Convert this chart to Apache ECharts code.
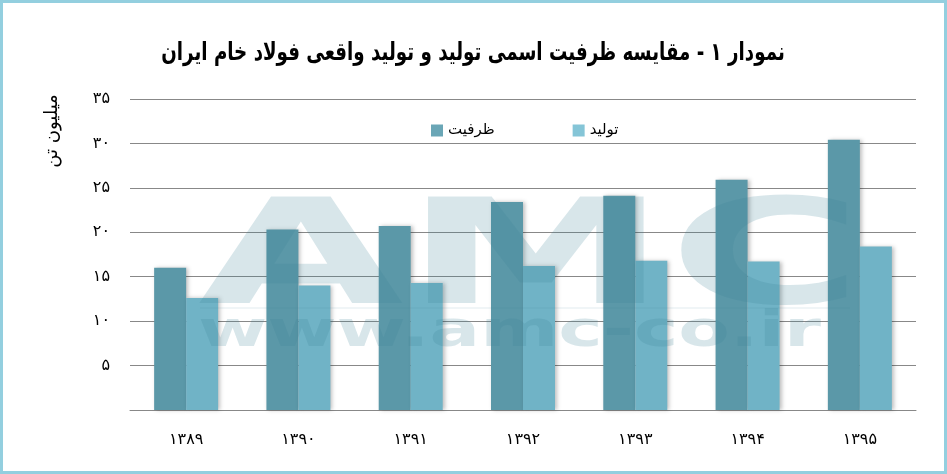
<!DOCTYPE html>
<html>
<head>
<meta charset="utf-8">
<script src="https://cdn.jsdelivr.net/npm/echarts@6/dist/echarts.min.js"></script>
<style>
  html, body { margin: 0; padding: 0; background: #fff; }
  #chart { width: 947px; height: 474px; }
</style>
</head>
<body>
<div id="chart"></div>
<script>
// Datos del gráfico
var years = ['۱۳۸۹', '۱۳۹۰', '۱۳۹۱', '۱۳۹۲', '۱۳۹۳', '۱۳۹۴', '۱۳۹۵'];
var capacity = [16.0, 20.3, 20.7, 23.4, 24.1, 25.9, 30.4];
var production = [12.6, 14.0, 14.3, 16.2, 16.8, 16.7, 18.4];
var seriesNames = ['ظرفیت', 'تولید'];

var faDigits = ['۰', '۱', '۲', '۳', '۴', '۵', '۶', '۷', '۸', '۹'];
function toFa(n) {
  return String(n).replace(/[0-9]/g, function (d) { return faDigits[+d]; });
}

var chart = echarts.init(document.getElementById('chart'));
var font = 'DejaVu Sans';

var option = {
  backgroundColor: '#fff',
  legend: {
    left: 426,
    top: 118,
    itemWidth: 12,
    itemHeight: 12,
    itemGap: 78,
    textStyle: { fontFamily: font, fontSize: 15, color: '#000' },
    data: [
      { name: seriesNames[0], icon: 'rect', itemStyle: { color: '#6aa6b6' } },
      { name: seriesNames[1], icon: 'rect', itemStyle: { color: '#85c5d7' } }
    ]
  },
  grid: { left: 130, right: 31, top: 99, bottom: 64 },
  xAxis: {
    type: 'category',
    data: years,
    axisLine: { lineStyle: { color: '#888' } },
    axisTick: { length: 8, lineStyle: { color: '#888' } },
    axisLabel: { margin: 22, fontFamily: font, fontSize: 16, color: '#000' }
  },
  yAxis: {
    type: 'value',
    min: 0,
    max: 35,
    interval: 5,
    axisLine: { show: false },
    axisTick: { show: false },
    splitLine: { lineStyle: { color: '#888' } },
    axisLabel: {
      margin: 20,
      fontFamily: font,
      fontSize: 16,
      color: '#000',
      formatter: function (v) { return v === 0 ? '' : toFa(v); }
    }
  },
  graphic: [
    {
      // título
      type: 'text',
      x: 473, y: 53,
      scaleX: 0.73,
      style: {
        text: 'نمودار ۱ - مقایسه ظرفیت اسمی تولید و تولید واقعی فولاد خام ایران',
        fontFamily: font, fontWeight: 'bold', fontSize: 25, fill: '#000',
        align: 'center', verticalAlign: 'middle'
      },
      z: 150
    },
    {
      // nombre del eje Y
      type: 'text',
      x: 52, y: 131,
      rotation: Math.PI / 2,
      style: {
        text: 'میلیون تن',
        fontFamily: font, fontSize: 18, fill: '#000',
        align: 'center', verticalAlign: 'middle'
      },
      z: 150
    },
    {
      type: 'rect',
      shape: { x: 1.5, y: 1.5, width: 944, height: 471 },
      style: { fill: 'none', stroke: '#93cfdf', lineWidth: 3 },
      z: 200
    },
    {
      type: 'text',
      x: 198, y: 192,
      scaleX: 1.82, scaleY: 1,
      style: {
        text: 'AMC',
        fontFamily: font, fontWeight: 'bold', fontSize: 146,
        fill: 'rgba(60,130,150,0.2)'
      },
      z: 100
    },
    {
      type: 'rect',
      shape: { x: 200, y: 307, width: 650, height: 2 },
      style: { fill: 'rgba(60,130,150,0.08)' },
      z: 100
    },
    {
      type: 'text',
      x: 198, y: 308,
      scaleX: 1.5, scaleY: 1,
      style: {
        text: 'www.amc-co.ir',
        fontFamily: font, fontWeight: 'bold', fontSize: 50,
        fill: 'rgba(60,130,150,0.2)'
      },
      z: 100
    }
  ],
  series: [
    {
      name: seriesNames[0],
      type: 'bar',
      data: capacity,
      barWidth: 32,
      barGap: '0%',
      itemStyle: {
        color: '#5b98a8',
        shadowBlur: 4,
        shadowOffsetX: 2,
        shadowColor: 'rgba(0,0,0,0.25)'
      }
    },
    {
      name: seriesNames[1],
      type: 'bar',
      data: production,
      barWidth: 32,
      itemStyle: {
        color: '#70b3c6',
        shadowBlur: 4,
        shadowOffsetX: 2,
        shadowColor: 'rgba(0,0,0,0.25)'
      }
    }
  ]
};

chart.setOption(option);
</script>
</body>
</html>
